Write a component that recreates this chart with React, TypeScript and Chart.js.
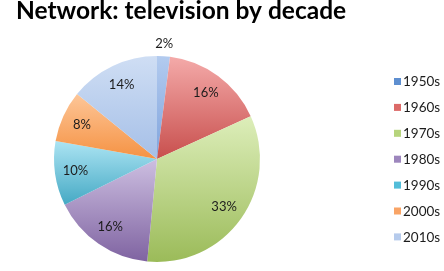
import React, { useEffect, useRef } from "react";
import { Chart, registerables } from "chart.js";

Chart.register(...registerables);

const TITLE = "Network: television by decade";
const decades = ["1950s", "1960s", "1970s", "1980s", "1990s", "2000s", "2010s"];
const shares = [2, 16, 33, 16, 10, 8, 14];
const lightColors = ["#b3cbef", "#f4aaa9", "#ddeeba", "#cdbfe1", "#ace4f3", "#fdc698", "#cfdef4"];
const darkColors = ["#7fa3dc", "#c84f4d", "#9bbb59", "#7f63a1", "#45a9c4", "#f59243", "#a5bfe7"];
const legendColors = ["#5e8fd0", "#dc6a68", "#b6d47c", "#9d86bd", "#52bdd9", "#f9a466", "#b6cbec"];

const FONT = "Lato, 'Open Sans', sans-serif";

function sliceYRange(cy: number, r: number, a0: number, a1: number): [number, number] {
  const ys = [cy, cy + r * Math.sin(a0), cy + r * Math.sin(a1)];
  const twoPi = Math.PI * 2;
  for (const t of [Math.PI / 2, -Math.PI / 2]) {
    for (let k = -2; k <= 2; k++) {
      const a = t + k * twoPi;
      if (a >= a0 && a <= a1) ys.push(cy + r * Math.sin(a));
    }
  }
  return [Math.min(...ys), Math.max(...ys)];
}

const gradientPlugin = {
  id: "sliceGradient",
  beforeDatasetsDraw(chart: any) {
    const meta = chart.getDatasetMeta(0);
    const ctx = chart.ctx;
    meta.data.forEach((arc: any, i: number) => {
      const { x, y, startAngle, endAngle, outerRadius } = arc;
      const [y0, y1] = sliceYRange(y, outerRadius, startAngle, endAngle);
      const g = ctx.createLinearGradient(0, y0, 0, Math.max(y1, y0 + 1));
      g.addColorStop(0, lightColors[i]);
      g.addColorStop(1, darkColors[i]);
      arc.options.backgroundColor = g;
    });
  },
};

const decorPlugin = {
  id: "decor",
  afterDraw(chart: any) {
    const ctx = chart.ctx;
    ctx.save();
    // title
    ctx.fillStyle = "#000000";
    ctx.font = `bold 24.5px ${FONT}`;
    ctx.textAlign = "left";
    ctx.textBaseline = "alphabetic";
    ctx.fillText(TITLE, 16, 19);

    // slice labels
    const meta = chart.getDatasetMeta(0);
    ctx.font = `13px ${FONT}`;
    ctx.fillStyle = "#1c1c1c";
    ctx.textAlign = "center";
    ctx.textBaseline = "middle";
    meta.data.forEach((arc: any, i: number) => {
      const mid = (arc.startAngle + arc.endAngle) / 2;
      const r = shares[i] < 5 ? arc.outerRadius + 12 : arc.outerRadius * 0.8;
      ctx.fillText(`${shares[i]}%`, arc.x + r * Math.cos(mid), arc.y + r * Math.sin(mid));
    });

    // legend
    ctx.font = `13.5px ${FONT}`;
    ctx.textAlign = "left";
    decades.forEach((d, i) => {
      const cy = 81.5 + i * 25.9;
      ctx.fillStyle = legendColors[i];
      ctx.fillRect(394, cy - 3.5, 7, 7);
      ctx.fillStyle = "#1c1c1c";
      ctx.fillText(d, 403, cy + 0.5);
    });
    ctx.restore();
  },
};

export default function App() {
  const ref = useRef<HTMLCanvasElement | null>(null);
  useEffect(() => {
    if (!ref.current) return;
    const chart = new Chart(ref.current, {
      type: "pie",
      data: {
        labels: decades,
        datasets: [
          {
            data: shares,
            backgroundColor: darkColors,
            borderWidth: 0,
          },
        ],
      },
      options: {
        animation: false,
        responsive: false,
        maintainAspectRatio: false,
        layout: { padding: { left: 54, top: 56, right: 184, bottom: 9 } },
        plugins: {
          legend: { display: false },
          title: { display: false },
          tooltip: { enabled: false },
        },
      },
      plugins: [gradientPlugin, decorPlugin],
    });
    return () => chart.destroy();
  }, []);
  return (
    <div style={{ position: "absolute", left: 0, top: 0, width: 444, height: 271, background: "#ffffff" }}>
      <canvas ref={ref} width={444} height={271} style={{ display: "block", width: 444, height: 271 }} />
    </div>
  );
}
